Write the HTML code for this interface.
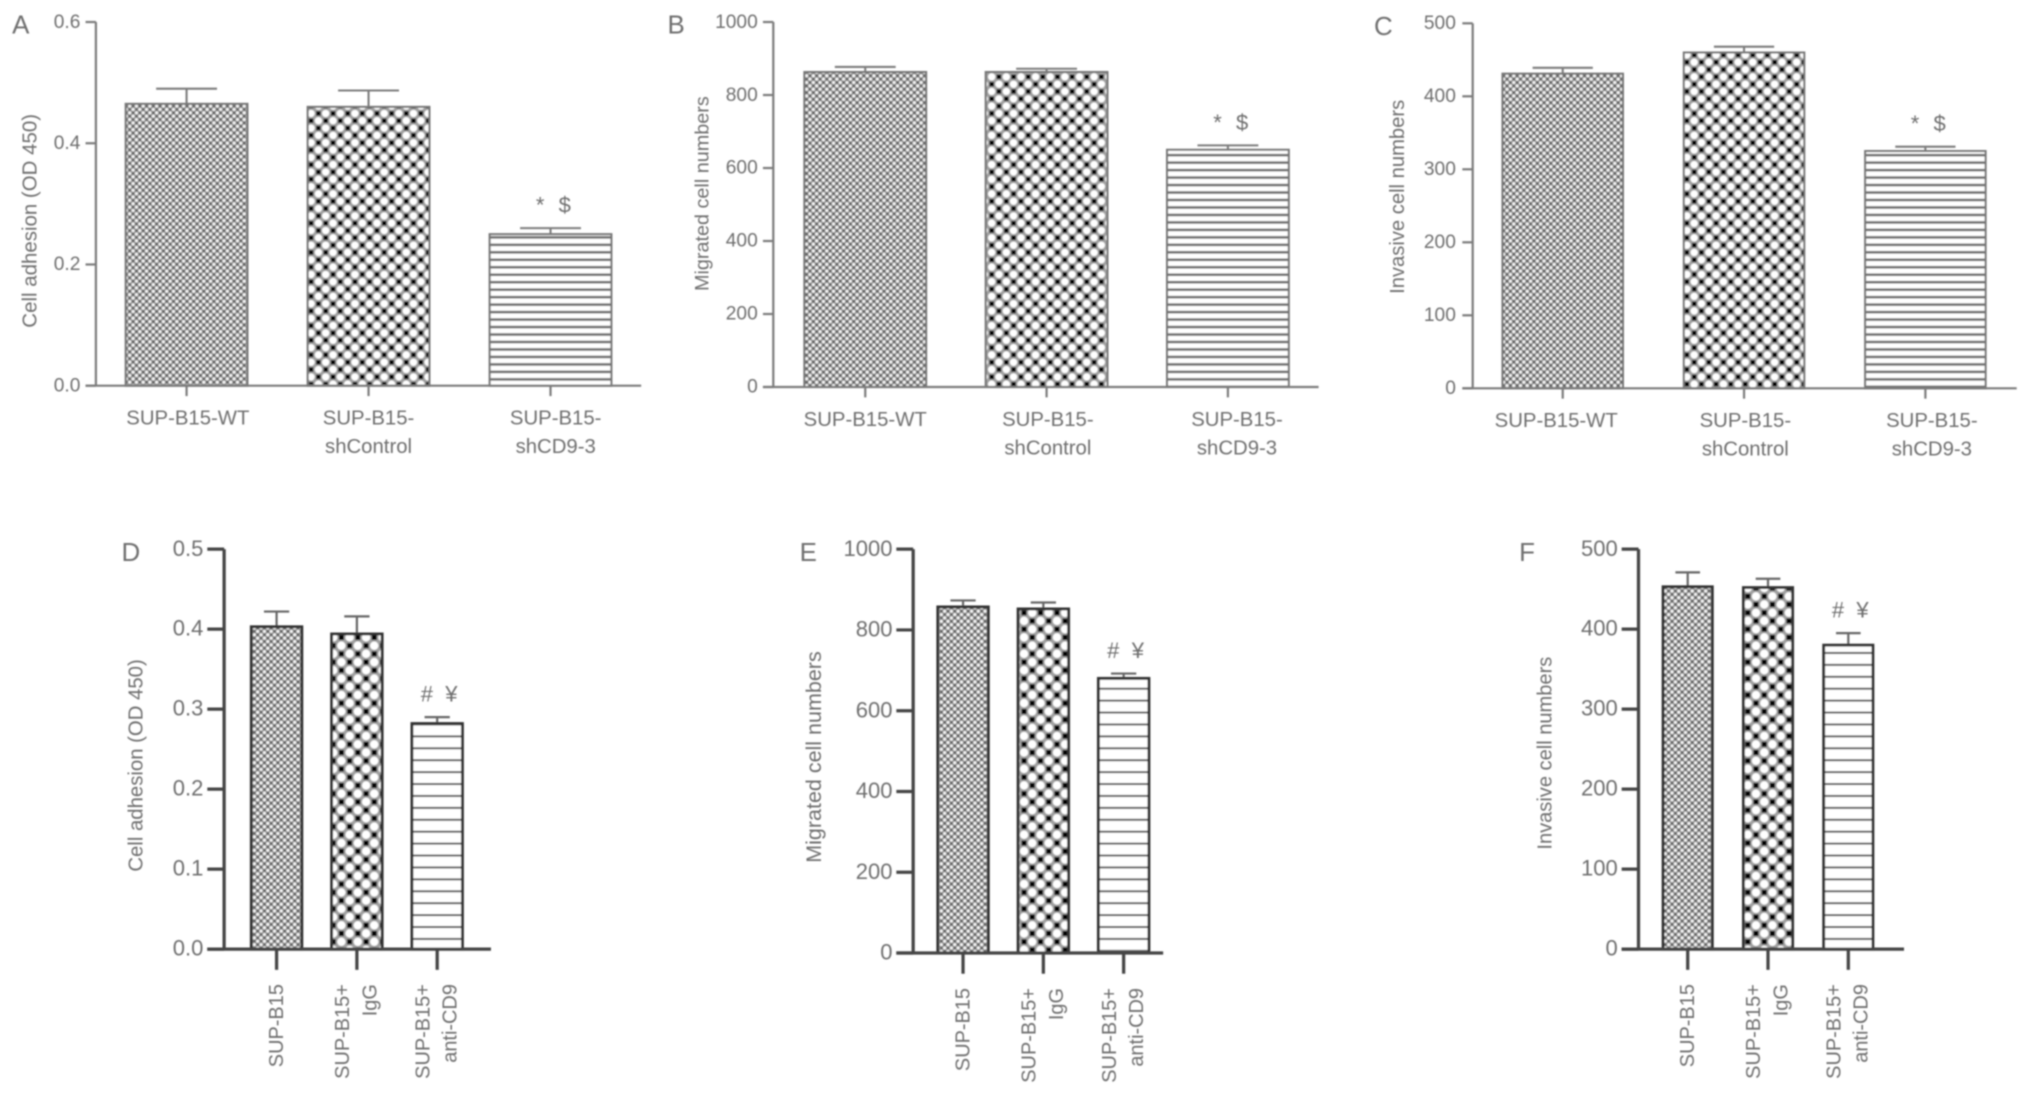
<!DOCTYPE html>
<html lang="en">
<head>
<meta charset="utf-8">
<title>SUP-B15 adhesion, migration and invasion bar charts</title>
<style>
html,body{margin:0;padding:0;background:#fff;width:2031px;height:1096px;overflow:hidden}
svg{display:block}
text{font-family:"Liberation Sans",sans-serif;fill:#6e6e6e}
</style>
</head>
<body>
<svg id="figure" xmlns="http://www.w3.org/2000/svg" width="2031" height="1096" viewBox="0 0 1568 846.2">
  <defs>
    <pattern id="fine-a" patternUnits="userSpaceOnUse" width="5.2" height="5.2">
      <rect width="5.2" height="5.2" fill="#a0a0a0"/>
      <rect x="0.3" y="0.3" width="2" height="2" fill="#626262"/>
      <rect x="2.9" y="2.9" width="2" height="2" fill="#626262"/>
      <circle cx="3.9" cy="1.3" r="1.1" fill="#fafafa"/>
      <circle cx="1.3" cy="3.9" r="1.1" fill="#fafafa"/>
    </pattern>
    <pattern id="coarse-a" patternUnits="userSpaceOnUse" width="11.3" height="11.3">
      <rect width="11.3" height="11.3" fill="#a0a0a0"/>
      <circle cx="2.8" cy="8.5" r="2.8" fill="#fff"/>
      <circle cx="8.5" cy="2.8" r="2.8" fill="#fff"/>
      <rect x="1.1" y="1.1" width="3.4" height="3.4" fill="#000"/>
      <rect x="6.8" y="6.8" width="3.4" height="3.4" fill="#000"/>
    </pattern>
    <pattern id="coarse-d" patternUnits="userSpaceOnUse" width="12.7" height="12.7">
      <rect width="12.7" height="12.7" fill="#a0a0a0"/>
      <circle cx="3.2" cy="9.5" r="3.2" fill="#fff"/>
      <circle cx="9.5" cy="3.2" r="3.2" fill="#fff"/>
      <rect x="1.3" y="1.3" width="3.8" height="3.8" fill="#000"/>
      <rect x="7.6" y="7.6" width="3.8" height="3.8" fill="#000"/>
    </pattern>
    <pattern id="stripe-a" patternUnits="userSpaceOnUse" width="10" height="5.77">
      <rect width="10" height="5.77" fill="#fff"/>
      <rect y="3.4" width="10" height="2" fill="#6e6e6e"/>
    </pattern>
    <pattern id="stripe-d" patternUnits="userSpaceOnUse" width="10" height="9.2">
      <rect width="10" height="9.2" fill="#fff"/>
      <rect y="6.6" width="10" height="1.5" fill="#555"/>
    </pattern>
    <filter id="soft" filterUnits="userSpaceOnUse" x="0" y="0" width="1568" height="847">
      <feGaussianBlur stdDeviation="0.65"/>
    </filter>
  </defs>
  <rect id="paper" width="1568" height="847" fill="#fff"/>
  <g id="root" filter="url(#soft)"></g>
</svg>
<script>
/* ---------- chart data ---------- */
const categoriesTop = ["SUP-B15-WT", "SUP-B15-\nshControl", "SUP-B15-\nshCD9-3"];
const categoriesBottom = ["SUP-B15", "SUP-B15+\nIgG", "SUP-B15+\nanti-CD9"];

const ticksAdhesionTop = ["0.0", "0.2", "0.4", "0.6"];
const ticksAdhesionBottom = ["0.0", "0.1", "0.2", "0.3", "0.4", "0.5"];
const ticksMigrated = ["0", "200", "400", "600", "800", "1000"];
const ticksInvasive = ["0", "100", "200", "300", "400", "500"];

const panelAMeans = [0.465, 0.46, 0.25];
const panelAUpper = [0.49, 0.487, 0.26];
const panelBMeans = [863, 863, 650];
const panelBUpper = [877, 872, 662];
const panelCMeans = [431, 460, 325];
const panelCUpper = [439, 468, 331];
const panelDMeans = [0.403, 0.394, 0.282];
const panelDUpper = [0.422, 0.416, 0.29];
const panelEMeans = [857, 852, 680];
const panelEUpper = [873, 868, 692];
const panelFMeans = [453, 452, 380];
const panelFUpper = [471, 463, 395];

const marksTop = ["*", "$"];
const marksBottom = ["#", "¥"];

/* ---------- layout (figure units) ---------- */
const styleTop = {
  axisColor: "#7b7b7b", axisWidth: 1.7, tickOut: 8, yTickOut: 8, barStroke: "#777", barStrokeWidth: 1.6,
  errColor: "#7b7b7b", errWidth: 1.6, fine: "fine-a", coarse: "coarse-a", stripe: "stripe-a",
  tickFont: 14.8, catFont: 15.7, rotated: false
};
const styleBottom = {
  axisColor: "#444", axisWidth: 2.5, tickOut: 16, yTickOut: 13, barStroke: "#333", barStrokeWidth: 2.2,
  errColor: "#666", errWidth: 1.7, fine: "fine-a", coarse: "coarse-d", stripe: "stripe-d",
  tickFont: 17, catFont: 15.4, rotated: true
};
const panels = [
  { id: "a", letter: "A", lx: 16, ly: 26, axisX: 74, y0: 297.8, yTop: 17, xEnd: 495, bar0: 97, barW: 94, step: 140.5,
    means: panelAMeans, upper: panelAUpper, ticks: ticksAdhesionTop, cats: categoriesTop, title: "Cell adhesion (OD 450)",
    titleFont: 15.8, titleX: 28, titleY: 170.5, marks: marksTop, tickLabelX: 62, catShift: [1, 0, 4], style: styleTop },
  { id: "b", letter: "B", lx: 522, ly: 26, axisX: 597, y0: 298.8, yTop: 17, xEnd: 1018, bar0: 621, barW: 94, step: 140,
    means: panelBMeans, upper: panelBUpper, ticks: ticksMigrated, cats: categoriesTop, title: "Migrated cell numbers",
    titleFont: 15.3, titleX: 547, titleY: 149.5, marks: marksTop, tickLabelX: 585, catShift: [0, 1, 7], style: styleTop },
  { id: "c", letter: "C", lx: 1068, ly: 27, axisX: 1137, y0: 299.8, yTop: 18, xEnd: 1557, bar0: 1160, barW: 93, step: 140,
    means: panelCMeans, upper: panelCUpper, ticks: ticksInvasive, cats: categoriesTop, title: "Invasive cell numbers",
    titleFont: 15.6, titleX: 1084, titleY: 152, marks: marksTop, tickLabelX: 1124, catShift: [-5, 1, 5], style: styleTop },
  { id: "d", letter: "D", lx: 101, ly: 433, axisX: 173, y0: 732.8, yTop: 424, xEnd: 379, bar0: 194, barW: 39, step: 62,
    means: panelDMeans, upper: panelDUpper, ticks: ticksAdhesionBottom, cats: categoriesBottom, title: "Cell adhesion (OD 450)",
    titleFont: 15.7, titleX: 110, titleY: 591, marks: marksBottom, tickLabelX: 157, catShift: [0, 0, 0], style: styleBottom },
  { id: "e", letter: "E", lx: 624, ly: 433, axisX: 705, y0: 735.8, yTop: 424, xEnd: 898, bar0: 724, barW: 39, step: 62,
    means: panelEMeans, upper: panelEUpper, ticks: ticksMigrated, cats: categoriesBottom, title: "Migrated cell numbers",
    titleFont: 16.6, titleX: 634, titleY: 584.5, marks: marksBottom, tickLabelX: 689, catShift: [0, 0, 0], style: styleBottom },
  { id: "f", letter: "F", lx: 1179, ly: 433, axisX: 1265, y0: 732.8, yTop: 424, xEnd: 1470, bar0: 1284, barW: 38, step: 62,
    means: panelFMeans, upper: panelFUpper, ticks: ticksInvasive, cats: categoriesBottom, title: "Invasive cell numbers",
    titleFont: 15.5, titleX: 1198, titleY: 581.5, marks: marksBottom, tickLabelX: 1249, catShift: [0, 0, 0], style: styleBottom }
];

const SVG_NS = "http://www.w3.org/2000/svg";
const root = document.getElementById("root");

function mk(parent, tag, attrs, text) {
  const el = document.createElementNS(SVG_NS, tag);
  for (const k in attrs) el.setAttribute(k, attrs[k]);
  if (text !== undefined) el.textContent = text;
  parent.appendChild(el);
  return el;
}

function drawPanel(p) {
  const st = p.style;
  const yMax = parseFloat(p.ticks[p.ticks.length - 1]);
  const yScale = v => p.y0 - (v / yMax) * (p.y0 - p.yTop);
  const barLeft = i => p.bar0 + i * p.step;
  const barCenter = i => barLeft(i) + p.barW / 2;
  const fills = [st.fine, st.coarse, st.stripe];

  const g = mk(root, "g", {});
  
  

  const letter = mk(g, "text", { x: p.lx, y: p.ly, "text-anchor": "middle", "font-size": 20 }, p.letter);
  
  

  const title = mk(g, "text", {
    x: 0, y: 0, "text-anchor": "middle", "font-size": p.titleFont,
    transform: "translate(" + p.titleX + "," + p.titleY + ") rotate(-90)"
  }, p.title);
  
  

  /* bars and error bars */
  p.means.forEach((m, i) => {
    const top = yScale(m);
    const errTop = yScale(p.upper[i]);
    const cx = barCenter(i);
    const capHalf = p.barW / 4;

    const stem = mk(g, "line", { x1: cx, x2: cx, y1: top, y2: errTop, stroke: st.errColor, "stroke-width": st.errWidth });
    
    

    const cap = mk(g, "line", { x1: cx - capHalf, x2: cx + capHalf, y1: errTop, y2: errTop, stroke: st.errColor, "stroke-width": st.errWidth });
    
    

    const bar = mk(g, "rect", {
      x: barLeft(i), y: top, width: p.barW, height: p.y0 - top,
      fill: "url(#" + fills[i] + ")", stroke: st.barStroke, "stroke-width": st.barStrokeWidth
    });
    
    
  });

  /* significance marks above last bar */
  const lastIndex = p.means.length - 1;
  const markY = yScale(p.upper[lastIndex]) - 12;
  const markOffsets = [-8, 11];
  p.marks.forEach((mText, i) => {
    const mark = mk(g, "text", {
      x: barCenter(lastIndex) + markOffsets[i], y: markY, "text-anchor": "middle", "font-size": 17
    }, mText);
    
    
  });

  /* axes */
  const yAxis = mk(g, "line", { x1: p.axisX, x2: p.axisX, y1: p.yTop, y2: p.y0, stroke: st.axisColor, "stroke-width": st.axisWidth });
  
  

  const xAxis = mk(g, "line", { x1: p.axisX - st.yTickOut, x2: p.xEnd, y1: p.y0, y2: p.y0, stroke: st.axisColor, "stroke-width": st.axisWidth });
  
  

  /* y ticks */
  p.ticks.forEach(label => {
    const ty = yScale(parseFloat(label));
    const tick = mk(g, "line", { x1: p.axisX - st.yTickOut, x2: p.axisX, y1: ty, y2: ty, stroke: st.axisColor, "stroke-width": st.axisWidth });
    
    

    const tl = mk(g, "text", { x: p.tickLabelX, y: ty + st.tickFont * 0.3, "text-anchor": "end", "font-size": st.tickFont }, label);
    
    
  });

  /* x ticks + category labels */
  p.cats.forEach((cat, i) => {
    const cx = barCenter(i);
    const tick = mk(g, "line", { x1: cx, x2: cx, y1: p.y0, y2: p.y0 + st.tickOut, stroke: st.axisColor, "stroke-width": st.axisWidth });
    
    

    const lines = cat.split("\n");
    lines.forEach((line, j) => {
      let attrs;
      if (st.rotated) {
        const lx = (lines.length > 1 ? cx - 11 : cx) + j * 21 + 5;
        attrs = {
          x: 0, y: 0, "text-anchor": "end", "font-size": st.catFont,
          transform: "translate(" + lx + "," + (p.y0 + 27) + ") rotate(-90)"
        };
      } else {
        attrs = {
          x: cx + p.catShift[i], y: p.y0 + 30 + j * 22, "text-anchor": "middle", "font-size": st.catFont
        };
      }
      const cl = mk(g, "text", attrs, line);
      
      
    });
  });
}

panels.forEach(drawPanel);
</script>
</body>
</html>
